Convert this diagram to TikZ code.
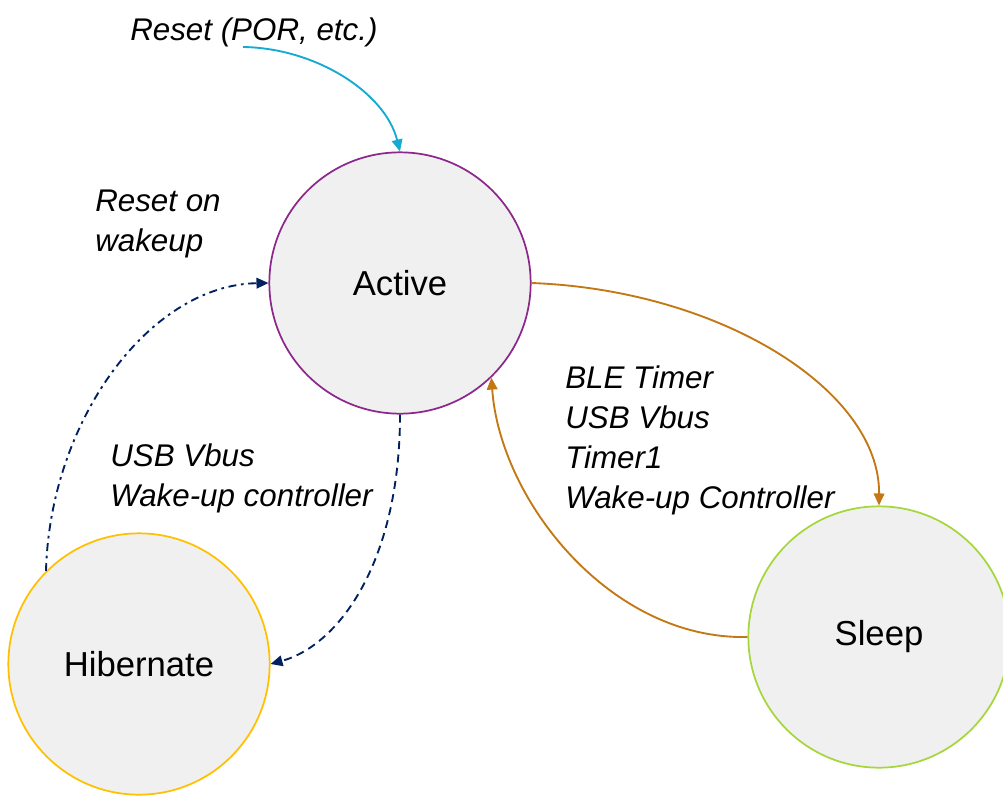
\documentclass[tikz,border=0pt]{standalone}
\usepackage{fontspec}
\setmainfont{Liberation Sans}
\usetikzlibrary{arrows.meta}
\definecolor{statefill}{RGB}{240,240,240}
\definecolor{activeline}{RGB}{140,40,140}
\definecolor{hibline}{RGB}{255,192,0}
\definecolor{sleepline}{RGB}{165,215,60}
\definecolor{resetcol}{RGB}{20,170,210}
\definecolor{navy}{RGB}{0,32,96}
\definecolor{amber}{RGB}{196,120,20}
\tikzset{
  state/.style={circle, fill=statefill, line width=1.3pt, inner sep=0pt,
    minimum size=196pt, font=\fontsize{26}{30}\selectfont},
  lbl/.style={anchor=west, align=left, inner sep=0pt,
    font=\fontsize{23.5}{30}\selectfont\itshape},
  tip/.style={-{Triangle[length=9pt,width=8pt]}, line width=1.4pt},
  dashdot/.style={dash pattern=on 6pt off 3.5pt on 2pt off 3.5pt},
  shortdash/.style={dash pattern=on 6pt off 4pt}
}
\begin{document}
\begin{tikzpicture}[x=0.75pt,y=-0.75pt]
\useasboundingbox (0,0) rectangle (1003,796);

% states
\node[state, draw=activeline] (active) at (400,283) {Active};
\node[state, draw=hibline] (hib) at (139,664) {Hibernate};
\node[state, draw=sleepline] (sleep) at (879,637) {Sleep};

% transition labels
\node[lbl] (por) at (130,32) {Reset (POR, etc.)};
\coordinate (porstart) at (243,47);
\node[lbl] (rwake) at (95,224) {Reset on\\wakeup};
\node[lbl] (hibcond) at (110,478) {USB Vbus\\Wake-up controller};
\node[lbl] (sleepcond) at (565,440) {BLE Timer\\USB Vbus\\Timer1\\Wake-up Controller};

% power-on reset
\draw[tip, resetcol] (porstart) .. controls (315,48) and (385,92) .. (active.north);

% hibernate <-> active
\draw[tip, navy, dashdot] (hib.135) .. controls (50,420) and (150,285) .. (active.west);
\draw[tip, navy, shortdash] (active.south) .. controls (400,560) and (340,645) .. (hib.east);

% active <-> sleep
\draw[tip, amber] (active.east) .. controls (720,290) and (880,390) .. (sleep.north);
\draw[tip, amber] (sleep.west) .. controls (610,640) and (500,500) .. (active.-46);
\end{tikzpicture}
\end{document}
